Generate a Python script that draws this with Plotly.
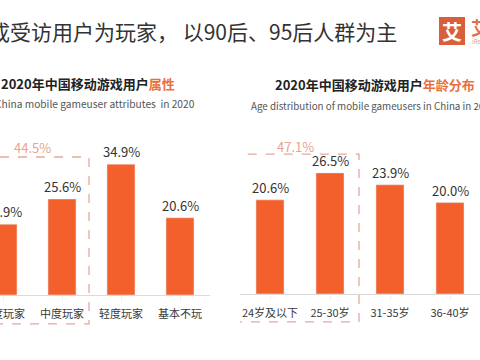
import plotly.graph_objects as go

# ---------------- data ----------------
attr_cats = ["重度玩家", "中度玩家", "轻度玩家", "基本不玩"]
attr_vals = [18.9, 25.6, 34.9, 20.6]

age_cats = ["24岁及以下", "25-30岁", "31-35岁", "36-40岁"]
age_vals = [20.6, 26.5, 23.9, 20.0]

headline = "超八成受访用户为玩家， 以90后、95后人群为主"
left_title = "2020年中国移动游戏用户"
left_title_hl = "属性"
left_sub = "China mobile gameuser attributes&nbsp;&nbsp;in 2020"
right_title = "2020年中国移动游戏用户"
right_title_hl = "年龄分布"
right_sub = "Age distribution of mobile gameusers in China in 2020"

# ---------------- style ----------------
W, H = 480, 360
BAR = "#F4602C"
ACCENT = "#E8703F"
BOX = "#E7A79C"
BOXTXT = "#E9A48A"
DARK = "#333333"
FONT = "Noto Sans CJK SC"

fig = go.Figure()

fig.add_trace(go.Bar(x=list(range(len(attr_cats))), y=attr_vals, marker_color=BAR,
                     width=0.475, xaxis="x", yaxis="y", hoverinfo="skip"))
fig.add_trace(go.Bar(x=list(range(len(age_cats))), y=age_vals, marker_color=BAR,
                     width=0.467, xaxis="x2", yaxis="y2", hoverinfo="skip"))

ann = []
for i, v in enumerate(attr_vals):
    ann.append(dict(x=i, y=v, xref="x", yref="y", text=f"{v:.1f}%", showarrow=False,
                    xanchor="center", yanchor="bottom", yshift=1,
                    font=dict(size=13, color=DARK, family=FONT)))
for i, v in enumerate(age_vals):
    ann.append(dict(x=i, y=v, xref="x2", yref="y2", text=f"{v:.1f}%", showarrow=False,
                    xanchor="center", yanchor="bottom", yshift=1,
                    font=dict(size=13, color=DARK, family=FONT)))

# dashed group boxes
lb = dict(x0=-0.458, x1=1.458, y0=-7.7, y1=36.8)
rb = dict(x0=-0.617, x1=1.483, y0=-6.1, y1=30.6)
shapes = [
    dict(type="rect", xref="x", yref="y", **lb, line=dict(color=BOX, width=1.3, dash="dash")),
    dict(type="rect", xref="x2", yref="y2", **rb, line=dict(color=BOX, width=1.3, dash="dash")),
]
ann.append(dict(x=(lb["x0"] + lb["x1"]) / 2, y=lb["y1"], xref="x", yref="y", xanchor="center",
                text=f"{attr_vals[0] + attr_vals[1]:.1f}%", showarrow=False, yshift=10,
                font=dict(size=13, color=BOXTXT, family=FONT)))
ann.append(dict(x=(rb["x0"] + rb["x1"]) / 2, y=rb["y1"], xref="x2", yref="y2", xanchor="center",
                text=f"{age_vals[0] + age_vals[1]:.1f}%", showarrow=False, yshift=8,
                font=dict(size=13, color=BOXTXT, family=FONT)))

def px(xp):
    return xp / W

def py(yp):
    return 1 - yp / H

# headline
ann.append(dict(x=px(-55), y=py(31), xref="paper", yref="paper", xanchor="left", yanchor="middle",
                text=headline, showarrow=False, font=dict(size=21, color=DARK, family=FONT)))
# chart titles
ann.append(dict(x=px(-1), y=py(83), xref="paper", yref="paper", xanchor="left", yanchor="middle",
                text=f"<b>{left_title}<span style='color:{ACCENT}'>{left_title_hl}</span></b>",
                showarrow=False, font=dict(size=13, color="#222222", family=FONT)))
ann.append(dict(x=px(-7), y=py(104), xref="paper", yref="paper", xanchor="left", yanchor="middle",
                text=left_sub, showarrow=False, font=dict(size=10.2, color="#555555", family=FONT)))
ann.append(dict(x=px(273), y=py(84), xref="paper", yref="paper", xanchor="left", yanchor="middle",
                text=f"<b>{right_title}<span style='color:{ACCENT}'>{right_title_hl}</span></b>",
                showarrow=False, font=dict(size=13, color="#222222", family=FONT)))
ann.append(dict(x=px(249), y=py(106), xref="paper", yref="paper", xanchor="left", yanchor="middle",
                text=right_sub, showarrow=False, font=dict(size=9.8, color="#555555", family=FONT)))

# logo
shapes.append(dict(type="rect", xref="paper", yref="paper", x0=px(439), x1=px(465), y0=py(45), y1=py(17),
                   fillcolor="#D95F3B", line=dict(width=0), layer="above"))
ann.append(dict(x=px(452), y=py(31), xref="paper", yref="paper", xanchor="center", yanchor="middle",
                text="<b>艾</b>", showarrow=False, font=dict(size=20, color="white", family=FONT)))
ann.append(dict(x=px(469), y=py(27), xref="paper", yref="paper", xanchor="left", yanchor="middle",
                text="<b>艾瑞</b>", showarrow=False, font=dict(size=18, color="#E0704A", family=FONT)))
ann.append(dict(x=px(470), y=py(41), xref="paper", yref="paper", xanchor="left", yanchor="middle",
                text="iResearch", showarrow=False, font=dict(size=6, color="#C9A59A", family=FONT)))

axis_common = dict(showgrid=False, zeroline=False, showline=True, linecolor="#DADADA", linewidth=1,
                   ticks="outside", tickson="boundaries", ticklen=5, tickcolor="#EFEFEF",
                   tickfont=dict(size=11, color="#3A3A3A", family=FONT), anchor="free",
                   ticklabelstandoff=4, ticklabeloverflow="allow", automargin=False)

fig.update_layout(
    width=W, height=H, margin=dict(l=0, r=0, t=0, b=0, pad=0), autosize=False,
    paper_bgcolor="white", plot_bgcolor="rgba(0,0,0,0)", showlegend=False,
    xaxis=dict(domain=[0, 209.5 / W], range=[-0.051, 3.5], tickmode="array",
               tickvals=list(range(len(attr_cats))), ticktext=attr_cats,
               position=1 - 295 / H, **axis_common),
    yaxis=dict(domain=[0, 1], range=[-65 / 3.75, -65 / 3.75 + H / 3.75], visible=False,
               automargin=False),
    xaxis2=dict(domain=[240 / W, 1], range=[-0.5, 3.5], tickmode="array",
                tickvals=list(range(len(age_cats))), ticktext=age_cats,
                position=1 - 294 / H, **axis_common),
    yaxis2=dict(domain=[0, 1], range=[-66 / 4.57, -66 / 4.57 + H / 4.57], visible=False, anchor="x2",
                automargin=False),
    annotations=ann, shapes=shapes, bargap=0.5,
)

fig.write_html("out.html", config={"displayModeBar": False},
               post_script="document.body.style.margin='0';document.body.style.overflow='hidden';")
